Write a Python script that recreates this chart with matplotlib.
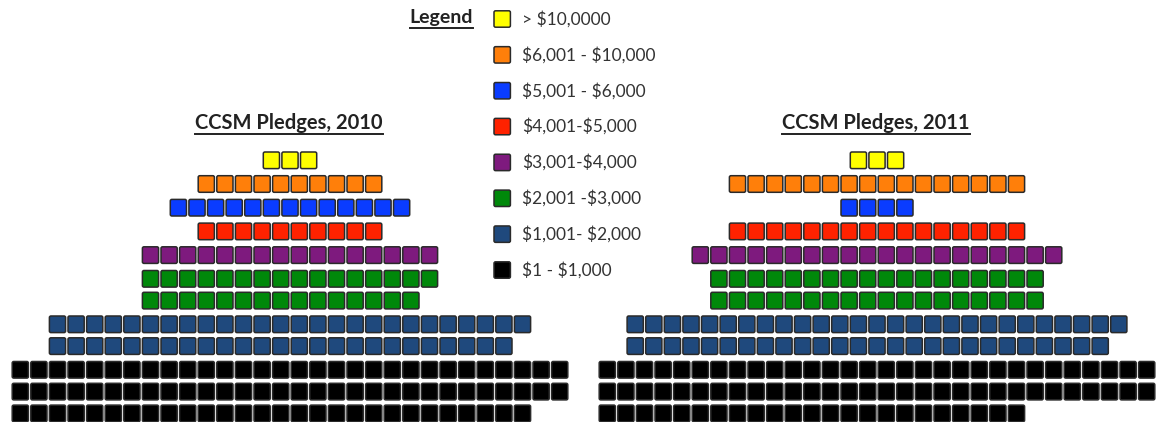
import matplotlib
matplotlib.use("Agg")
import matplotlib.pyplot as plt
from matplotlib.patches import FancyBboxPatch
from matplotlib.lines import Line2D

# ---------------- data ----------------
categories = ["> $10,0000", "$6,001 - $10,000", "$5,001 - $6,000", "$4,001-$5,000",
              "$3,001-$4,000", "$2,001 -$3,000", "$1,001- $2,000", "$1 - $1,000"]
colors = ["#FFFF00", "#FF7F0A", "#0A3CFF", "#FF2200",
          "#7E1A7E", "#00880A", "#1F497D", "#000000"]
# squares per row for each category (one pledge = one square)
rows_2010 = [[3], [10], [13], [10], [16], [16, 15], [26, 25], [30, 30, 28]]
rows_2011 = [[3], [16], [4], [16], [20], [18, 18], [27, 26], [30, 30, 23]]
titles = ["CCSM Pledges, 2010", "CCSM Pledges, 2011"]
legend_title = "Legend"

# ---------------- layout ----------------
W, H = 1156, 422
fig = plt.figure(figsize=(W / 100, H / 100), dpi=100)
ax = fig.add_axes([0, 0, 1, 1])
ax.set_xlim(0, W)
ax.set_ylim(H, 0)
ax.axis("off")

FONT = "Lato"
step_x = 18.6
sq_w, sq_h = 16.2, 16.6
group_gap, row_gap = 23.7, 21.8
top0 = 152


def square(x, y, color, w=sq_w, h=sq_h):
    p = FancyBboxPatch((x, y), w, h, boxstyle="round,pad=0,rounding_size=1.6",
                       facecolor=color, edgecolor="#2a2a2a", linewidth=1.1,
                       clip_on=True)
    ax.add_patch(p)


def pyramid(rows, cx):
    y = top0
    for gi, (grp, col) in enumerate(zip(rows, colors)):
        if gi > 0:
            y += group_gap
        left = cx - grp[0] * step_x / 2 + (step_x - sq_w) / 2
        for ri, n in enumerate(grp):
            if ri > 0:
                y += row_gap
            for i in range(n):
                square(left + i * step_x, y, col)


pyramid(rows_2010, 290)
pyramid(rows_2011, 877)

fig.canvas.draw()
renderer = fig.canvas.get_renderer()


def underlined(x, y, s, size, ha="center"):
    t = ax.text(x, y, s, fontsize=size, fontweight="bold", family=FONT,
                color="#222222", ha=ha, va="center", parse_math=False)
    bb = t.get_window_extent(renderer=renderer)
    inv = ax.transData.inverted()
    (x0, y0), (x1, y1) = inv.transform([[bb.x0, bb.y0], [bb.x1, bb.y1]])
    yl = max(y0, y1) + 1.0
    ax.add_line(Line2D([x0, x1], [yl, yl], color="#222222", linewidth=1.4))


underlined(289, 123, titles[0], 14.5)
underlined(876, 123, titles[1], 14.5)
underlined(441.5, 18, legend_title, 14)

# legend
leg_step = 35.86
for i, (lab, col) in enumerate(zip(categories, colors)):
    yc = 19 + i * leg_step
    square(494, yc - 8.2, col, 16.4, 16.4)
    ax.text(522, yc, lab, fontsize=12.5, family=FONT, color="#333333",
            ha="left", va="center", parse_math=False)

fig.savefig("out.png", dpi=100)
